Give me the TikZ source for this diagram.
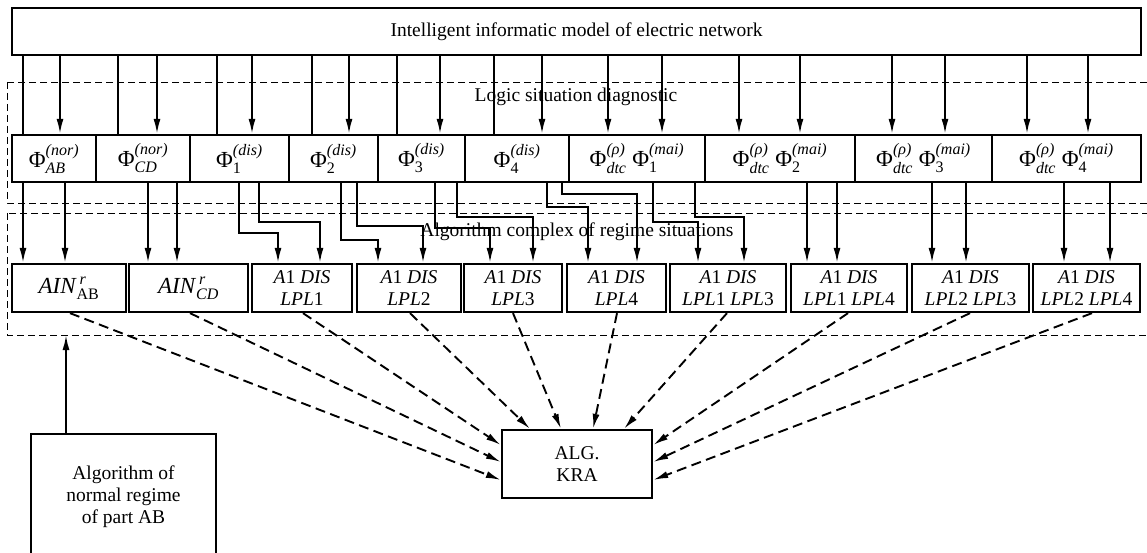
\documentclass[tikz,border=0pt]{standalone}
\usepackage{fontspec}
\usepackage{amsmath}
\setmainfont{Liberation Serif}
\usetikzlibrary{arrows.meta}
\DeclareMathSizes{23}{23}{16}{12}
\DeclareMathSizes{19.5}{19.5}{14}{10}

\tikzset{
  blk/.style={draw, line width=2.3pt, inner sep=0pt, align=center, font=\fontsize{19.5}{22}\selectfont},
  big/.style={font=\fontsize{23}{26}\selectfont},
  txt/.style={inner sep=0pt, font=\fontsize{19.5}{22}\selectfont},
  lnk/.style={line width=1.9pt},
  arr/.style={lnk, -{Latex[length=15pt,width=7pt]}},
  darr/.style={arr, dash pattern=on 10pt off 5.5pt},
  frame/.style={line width=0.9pt, dash pattern=on 7pt off 4pt}
}
\newcommand{\fsym}[2]{Φ$^{\text{\itshape(#1)}}_{\text{#2}}$}

\begin{document}
\begin{tikzpicture}[x=1pt,y=-1pt]
        \clip (0,0) rectangle (1147,553);
        % frames
        \draw [frame] (7,82) rectangle (1160,203);
        \draw [frame] (7,213) rectangle (1160,335);
        \coordinate (fb) at (7,335);
        \node [txt] (lsd) at (576,97) {Logic situation diagnostic};
        \node [txt] (acr) at (577,232) {Algorithm complex of regime situations};
        % model
        \node [blk, minimum width=1129, minimum height=47] (model) at (576.5,31.5) {Intelligent informatic model of electric network};
        % situations
        \node [blk, big, minimum width=84, minimum height=47] (f1) at (54,158.5) {\fsym{nor}{\itshape AB}};
        \node [blk, big, minimum width=94, minimum height=47] (f2) at (143,158.5) {\fsym{nor}{\itshape CD}};
        \node [blk, big, minimum width=99, minimum height=47] (f3) at (239.5,158.5) {\fsym{dis}{1}};
        \node [blk, big, minimum width=89, minimum height=47] (f4) at (333.5,158.5) {\fsym{dis}{2}};
        \node [blk, big, minimum width=87, minimum height=47] (f5) at (421.5,158.5) {\fsym{dis}{3}};
        \node [blk, big, minimum width=104, minimum height=47] (f6) at (517,158.5) {\fsym{dis}{4}};
        \node [blk, big, minimum width=136, minimum height=47] (f7) at (637,158.5) {\fsym{ρ}{\itshape dtc} \fsym{mai}{1}};
        \node [blk, big, minimum width=150, minimum height=47] (f8) at (780,158.5) {\fsym{ρ}{\itshape dtc} \fsym{mai}{2}};
        \node [blk, big, minimum width=137, minimum height=47] (f9) at (923.5,158.5) {\fsym{ρ}{\itshape dtc} \fsym{mai}{3}};
        \node [blk, big, minimum width=149, minimum height=47] (f10) at (1066.5,158.5) {\fsym{ρ}{\itshape dtc} \fsym{mai}{4}};
        % algorithms
        \node [blk, big, minimum width=114, minimum height=48] (a1) at (69,288) {\textit{AIN}$^{\,\text{\itshape r}}_{\text{AB}}$};
        \node [blk, big, minimum width=119, minimum height=48] (a2) at (188.5,288) {\textit{AIN}$^{\,\text{\itshape r}}_{\text{\itshape CD}}$};
        \node [blk, minimum width=100, minimum height=48] (a3) at (302,288) {\textit{A}1 \textit{DIS}\\\textit{LPL}1};
        \node [blk, minimum width=104, minimum height=48] (a4) at (409,288) {\textit{A}1 \textit{DIS}\\\textit{LPL}2};
        \node [blk, minimum width=98, minimum height=48] (a5) at (513,288) {\textit{A}1 \textit{DIS}\\\textit{LPL}3};
        \node [blk, minimum width=99, minimum height=48] (a6) at (616.5,288) {\textit{A}1 \textit{DIS}\\\textit{LPL}4};
        \node [blk, minimum width=116, minimum height=48] (a7) at (728,288) {\textit{A}1 \textit{DIS}\\\textit{LPL}1 \textit{LPL}3};
        \node [blk, minimum width=116, minimum height=48] (a8) at (849,288) {\textit{A}1 \textit{DIS}\\\textit{LPL}1 \textit{LPL}4};
        \node [blk, minimum width=117, minimum height=48] (a9) at (970.5,288) {\textit{A}1 \textit{DIS}\\\textit{LPL}2 \textit{LPL}3};
        \node [blk, minimum width=107, minimum height=48] (a10) at (1086.5,288) {\textit{A}1 \textit{DIS}\\\textit{LPL}2 \textit{LPL}4};
        % bottom
        \node [blk, minimum width=150, minimum height=68] (kra) at (577,464) {ALG.\\KRA};
        \node [blk, minimum width=185, minimum height=126] (norm) at (123.5,497) {Algorithm of\\normal regime\\of part AB};
        % lines
        \foreach \u in {23,118,217,312,397,494}
            \draw [lnk] (\u,0 |- model.south) -- (\u,0 |- f1.north);
        \foreach \u in {60,157,252,349,440,542,608,662,739,800,892,945,1027,1088}
            \draw [arr] (\u,0 |- model.south) -- (\u,0 |- f1.north);
        \foreach \u/\s/\t in {23/f1/a1,65/f1/a1,148/f2/a2,177/f2/a2,807/f8/a8,837/f8/a8,932/f9/a9,966/f9/a9,1064/f10/a10,1110/f10/a10}
            \draw [arr] (\u,0 |- \s.south) -- (\u,0 |- \t.north);
        \foreach \u/\v/\w/\s/\t in {239/233/278/f3/a3,259/222/320/f3/a3,341/240/378/f4/a4,357/226/423/f4/a4,435/228/490/f5/a5,457/217/533/f5/a5,547/207/588/f6/a6,562/194/637/f6/a6,653/222/698/f7/a7,695/217/744/f7/a7}
            \draw [arr] (\u,0 |- \s.south) -- (\u,\v) -| (\w,0 |- \t.north);
        \draw [arr] (66,0 |- norm.north) -- (66,0 |- fb);
        % dashed
        \draw [darr] (70,0 |- a1.south) -- (kra.west |- 0,480);
        \draw [darr] (190,0 |- a2.south) -- (kra.west |- 0,462);
        \draw [darr] (303,0 |- a3.south) -- (kra.west |- 0,445);
        \draw [darr] (410,0 |- a4.south) -- (530,0 |- kra.north);
        \draw [darr] (513,0 |- a5.south) -- (561,0 |- kra.north);
        \draw [darr] (617,0 |- a6.south) -- (593,0 |- kra.north);
        \draw [darr] (727,0 |- a7.south) -- (624,0 |- kra.north);
        \draw [darr] (848,0 |- a8.south) -- (kra.east |- 0,445);
        \draw [darr] (970,0 |- a9.south) -- (kra.east |- 0,462);
        \draw [darr] (1092,0 |- a10.south) -- (kra.east |- 0,480);
\end{tikzpicture}
\end{document}
